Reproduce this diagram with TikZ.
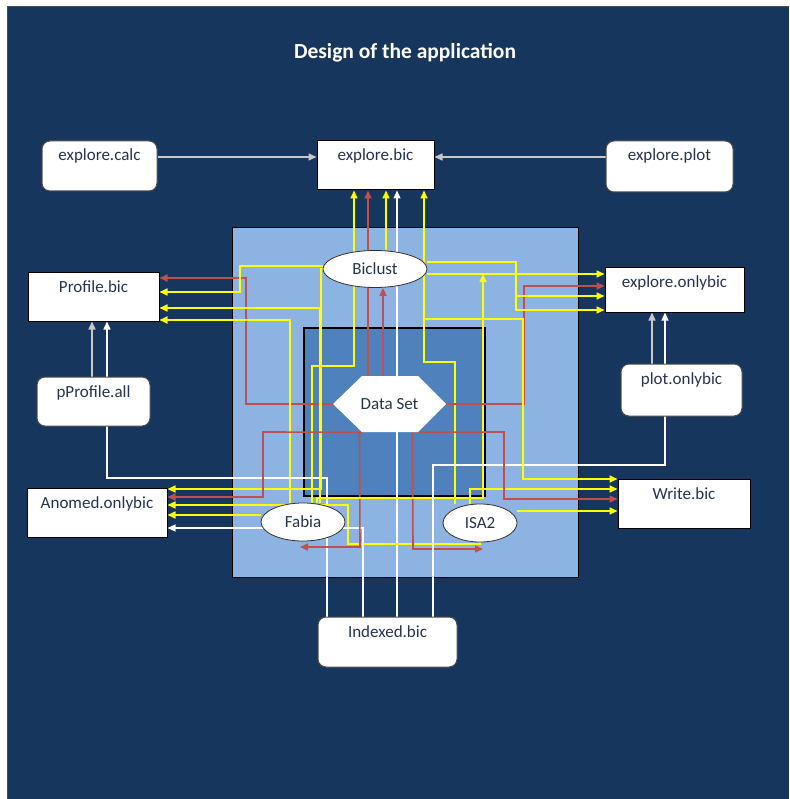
\documentclass[tikz,border=0pt]{standalone}
\usepackage{fontspec}
\setmainfont{Carlito}
\usetikzlibrary{arrows.meta,shapes.geometric,calc}
\definecolor{navy}{HTML}{17365D}
\definecolor{lblue}{HTML}{8DB3E2}
\definecolor{mblue}{HTML}{4F81BD}
\definecolor{ared}{HTML}{C0504D}
\definecolor{ayel}{HTML}{FFFF00}
\definecolor{txt}{HTML}{26344F}
\definecolor{lgray}{HTML}{C8C8C8}
\pgfdeclarelayer{bg}
\pgfdeclarelayer{edges}
\pgfsetlayers{bg,edges,main}
\begin{document}
\begin{tikzpicture}[x=1pt,y=-1pt,
  lbl/.style={font=\fontsize{17pt}{20pt}\selectfont, text=txt},
  sqbox/.style={lbl, draw=black, line width=1pt, fill=white, inner sep=0pt, text height=20pt},
  rdbox/.style={sqbox, rounded corners=8pt, draw=black!70},
  ell/.style={lbl, ellipse, draw=black!80, line width=0.8pt, fill=white, inner sep=0pt},
  tip/.style={-{Triangle[length=8pt,width=7pt]}},
  yl/.style={tip, draw=ayel, line width=1.6pt},
  rd/.style={tip, draw=ared, line width=1.6pt},
  wt/.style={tip, draw=white, line width=1.3pt},
  gy/.style={tip, draw=lgray, line width=1.5pt}
]
\useasboundingbox (0,0) rectangle (789,799);
\begin{pgfonlayer}{bg}
\fill[white] (0,0) rectangle (789,799);
\fill[navy] (7,7) rectangle (789,799);
\draw[black!70, line width=1pt] (7,799) -- (7,7) -- (789,7);
\draw[fill=lblue, draw=black, line width=1pt] (232,228) rectangle (578,577);
\draw[fill=mblue, draw=black, line width=1.6pt] (304,328) rectangle (485,496);
\end{pgfonlayer}

% title
\node[text=white, font=\bfseries\fontsize{21.5pt}{25pt}\selectfont] (title) at (405,53) {Design of the application};

% boxes
\node[rdbox, minimum width=115pt, minimum height=50pt, text depth=30pt] (ecalc) at (99.5,166) {explore.calc};
\node[sqbox, minimum width=117pt, minimum height=49pt, text depth=29pt] (ebic) at (375.5,165.5) {explore.bic};
\node[rdbox, minimum width=127pt, minimum height=51pt, text depth=31pt] (eplot) at (669.5,166.5) {explore.plot};
\node[sqbox, minimum width=131pt, minimum height=49pt, text depth=29pt] (profile) at (93.5,296.5) {Profile.bic};
\node[rdbox, minimum width=113pt, minimum height=49pt, text depth=29pt] (pprof) at (93.5,401.5) {pProfile.all};
\node[sqbox, minimum width=140pt, minimum height=49pt, text depth=29pt] (anomed) at (97,512.5) {Anomed.onlybic};
\node[sqbox, minimum width=139pt, minimum height=45pt, text depth=25pt] (eonly) at (674.5,289.5) {explore.onlybic};
\node[rdbox, minimum width=121pt, minimum height=52pt, text depth=32pt] (ponly) at (681.5,390) {plot.onlybic};
\node[sqbox, minimum width=132pt, minimum height=49pt, text depth=29pt] (write) at (684,503.5) {Write.bic};
\node[rdbox, minimum width=139pt, minimum height=50pt, text depth=30pt] (idx) at (387.5,642) {Indexed.bic};

% central shapes
\node[ell, minimum width=104pt, minimum height=37pt] (bic) at (375,269) {Biclust};
\node[ell, minimum width=84pt, minimum height=38pt] (fab) at (303,522) {Fabia};
\node[ell, minimum width=74pt, minimum height=38pt] (isa) at (480,523) {ISA2};
\fill[white] (333,404) -- (362,376) -- (418,376) -- (446,404) -- (418,432) -- (362,432) -- cycle;
\node[lbl, minimum width=113pt, minimum height=56pt, inner sep=0pt] (ds) at (389.5,404) {Data Set};

\begin{pgfonlayer}{edges}
% to explore.bic
\draw[gy] (ecalc.east |- 0,157) -- (ebic.west |- 0,157);
\draw[gy] (eplot.west |- 0,157) -- (ebic.east |- 0,157);
\draw[yl] (fab.north -| 312,0) -- (312,366) -- (354,366) -- (ebic.south -| 354,0);
\draw[rd] (ds.north -| 368,0) -- (ebic.south -| 368,0);
\draw[yl] (bic.north -| 386,0) -- (ebic.south -| 386,0);
\draw[wt] (idx.north -| 397,0) -- (ebic.south -| 397,0);
\draw[yl] (isa.north -| 455,0) -- (455,362) -- (424,362) -- (ebic.south -| 424,0);
\draw[rd] (ds.north -| 383,0) -- (bic.south -| 383,0);
% to Profile.bic
\draw[rd] (ds.west) -- (246,404) -- (246,278) -- (profile.east |- 0,278);
\draw[yl] (bic.west |- 0,266) -- (240,266) -- (240,292) -- (profile.east |- 0,292);
\draw[yl] (fab.north -| 320,0) -- (320,308) -- (profile.east |- 0,308);
\draw[yl] (fab.north -| 290,0) -- (290,320) -- (profile.east |- 0,320);
\draw[gy] (pprof.north -| 92,0) -- (profile.south -| 92,0);
\draw[wt] (idx.north -| 327,0) -- (327,478) -- (107,478) -- (profile.south -| 107,0);
% to Anomed.onlybic
\draw[yl] (bic.west) -- (321,269) -- (321,489) -- (anomed.east |- 0,489);
\draw[rd] ($(ds.south)+(-28,0)$) -- (263,432) -- (263,497) -- (anomed.east |- 0,497);
\draw[yl] (isa.south) -- (480,544) -- (348,544) -- (348,505) -- (anomed.east |- 0,505);
\draw[yl] (fab.west |- 0,515) -- (anomed.east |- 0,515);
\draw[wt] (idx.north -| 363,0) -- (363,528) -- (anomed.east |- 0,528);
% Data Set to algorithms
\draw[rd] ($(ds.south)+(-30,0)$) -- (360,547) -- (300,547);
\draw[rd] ($(ds.south)+(23,0)$) -- (413,549) -- (483,549);
% to explore.onlybic
\draw[yl] (bic.east |- 0,274) -- (eonly.west |- 0,274);
\draw[yl] (fab.north -| 317,0) -- (317,498) -- (483,498) -- (483,274);
\draw[rd] (ds.east) -- (524,404) -- (524,286) -- (eonly.west |- 0,286);
\draw[yl] (bic.east |- 0,262) -- (516,262) -- (516,296) -- (eonly.west |- 0,296);
\draw[yl] (516,296) -- (516,310) -- (eonly.west |- 0,310);
\draw[gy] (ponly.north -| 652,0) -- (eonly.south -| 652,0);
\draw[wt] (idx.north -| 433,0) -- (433,465) -- (665,465) -- (eonly.south -| 665,0);
% to Write.bic
\draw[yl] (bic.south -| 424,0) -- (424,319) -- (523,319) -- (523,479) -- (write.west |- 0,479);
\draw[yl] (isa.north -| 470,0) -- (470,489) -- (write.west |- 0,489);
\draw[rd] ($(ds.south)+(28,0)$) -- (504,432) -- (504,499) -- (write.west |- 0,499);
\draw[yl] (isa.east |- 0,511) -- (write.west |- 0,511);
\end{pgfonlayer}
\end{tikzpicture}
\end{document}
